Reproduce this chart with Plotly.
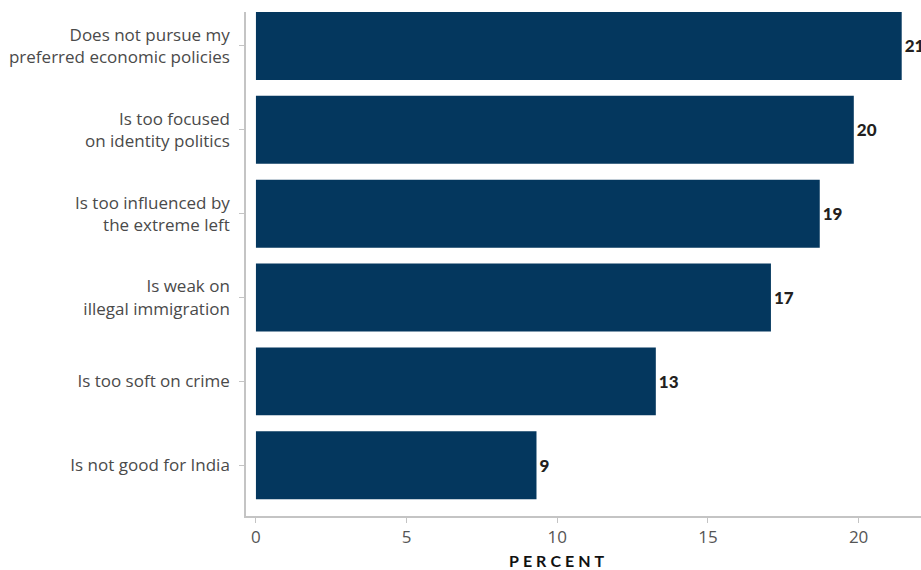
import plotly.graph_objects as go

categories = [
    "Does not pursue my<br>preferred economic policies",
    "Is too focused<br>on identity politics",
    "Is too influenced by<br>the extreme left",
    "Is weak on<br>illegal immigration",
    "Is too soft on crime",
    "Is not good for India",
]
values = [21.43, 19.84, 18.71, 17.09, 13.27, 9.31]
value_labels = ["21", "20", "19", "17", "13", "9"]
x_ticks = [0, 5, 10, 15, 20]

fig = go.Figure()
fig.add_trace(go.Bar(
    y=categories,
    x=values,
    orientation="h",
    marker=dict(color="#04375e", line=dict(width=0)),
    width=0.81,
    text=value_labels,
    textposition="outside",
    constraintext="none",
    textfont=dict(family="Lato", size=17, color="#231f20", weight=900),
    cliponaxis=False,
    hoverinfo="skip",
))

fig.update_layout(
    width=921,
    height=570,
    margin=dict(l=246, r=0, t=12, b=54),
    plot_bgcolor="white",
    paper_bgcolor="white",
    showlegend=False,
    font=dict(family="Open Sans", size=17, color="#4a4a4a"),
    xaxis=dict(
        range=[-0.33, 22.07],
        tickvals=x_ticks,
        showgrid=False,
        zeroline=False,
        showline=True,
        linecolor="#c4c4c4",
        linewidth=1.5,
        ticks="outside",
        ticklen=5,
        tickcolor="#c4c4c4",
        tickfont=dict(family="Open Sans", size=17, color="#555555"),
    ),
    yaxis=dict(
        autorange=False,
        range=[5.605, -0.405],
        showgrid=False,
        zeroline=False,
        showline=True,
        linecolor="#c4c4c4",
        linewidth=1.5,
        ticks="outside",
        ticklen=5,
        tickcolor="#c4c4c4",
        ticklabelstandoff=6,
        tickfont=dict(family="Open Sans", size=17, color="#4a4a4a"),
    ),
    annotations=[dict(
        text="<b>" + "\u2005".join("PERCENT") + "</b>",
        x=(557 - 246) / (921 - 246),
        y=-(560.5 - 515.7) / (570 - 12 - 54),
        xref="paper", yref="paper",
        xanchor="center", yanchor="middle",
        showarrow=False,
        font=dict(family="Lato", size=16, color="#111111"),
    )],
)

fig.write_html("out.html", post_script="document.body.style.margin='0';",
               config={"displayModeBar": False})
